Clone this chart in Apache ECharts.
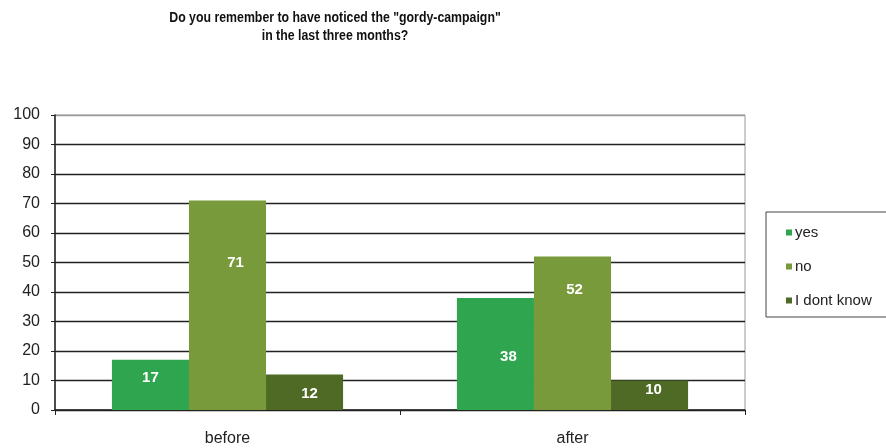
<!DOCTYPE html>
<html>
<head>
<meta charset="utf-8">
<script src="https://cdn.jsdelivr.net/npm/echarts@6/dist/echarts.min.js"></script>
<style>
  html, body { margin: 0; padding: 0; background: #fff; }
  #chart { width: 886px; height: 448px; }
</style>
</head>
<body>
<div id="chart"></div>
<script>
// Survey answers (%) for the two waves
const categories = ['before', 'after'];
const yesValues = [17, 38];
const noValues = [71, 52];
const dontKnowValues = [12, 10];
const yTicks = [0, 10, 20, 30, 40, 50, 60, 70, 80, 90, 100];
const titleText = 'Do you remember to have noticed the "gordy-campaign"\nin the last three months?';

// Label nudges inside the bars, [dx, dy] per category
const yesLabelShift = [[0, -7], [13, 3]];
const noLabelShift = [[8, -42], [2, -43]];
const dontKnowLabelShift = [[5, 2], [4, -5]];

const chart = echarts.init(document.getElementById('chart'));

function items(values, shifts) {
  return values.map((v, i) => ({ value: v, label: { offset: shifts[i] } }));
}

const barLabel = {
  show: true,
  position: 'inside',
  color: '#ffffff',
  fontFamily: 'Liberation Sans, Arial, sans-serif',
  fontWeight: 'bold',
  fontSize: 15
};

const splitColors = yTicks.map((t, i) => (i === yTicks.length - 1 ? '#9a9a9a' : '#222222'));

chart.setOption({
  animation: false,
  backgroundColor: '#ffffff',
  // Condensed bold heading, squeezed horizontally around its centre
  graphic: [{
    type: 'text',
    x: 335,
    y: 9,
    scaleX: 0.85,
    style: {
      text: titleText,
      textAlign: 'center',
      textVerticalAlign: 'top',
      font: 'bold 14.5px "Liberation Sans", Arial, sans-serif',
      lineHeight: 18,
      fill: '#111111'
    }
  }],
  legend: {
    orient: 'vertical',
    left: 766,
    top: 212,
    padding: [13, 20, 9, 20],
    itemWidth: 6,
    itemHeight: 6,
    itemGap: 19,
    icon: 'rect',
    borderColor: '#444444',
    borderWidth: 1,
    textStyle: {
      fontFamily: 'Liberation Sans, Arial, sans-serif',
      fontSize: 15,
      color: '#222222',
      padding: [0, 0, 0, -2]
    },
    data: ['yes', 'no', 'I dont know']
  },
  grid: {
    left: 55,
    right: 141,
    top: 115,
    bottom: 38,
    show: true,
    borderColor: '#9a9a9a',
    borderWidth: 1
  },
  xAxis: {
    type: 'category',
    data: categories,
    axisLine: { lineStyle: { color: '#222222', width: 1.5 } },
    axisTick: { show: true, length: 5, lineStyle: { color: '#222222' } },
    axisLabel: {
      margin: 21,
      fontFamily: 'Liberation Sans, Arial, sans-serif',
      fontSize: 16,
      color: '#222222'
    }
  },
  yAxis: {
    type: 'value',
    min: 0,
    max: 100,
    interval: 10,
    axisLine: { show: true, lineStyle: { color: '#222222', width: 1.5 } },
    axisTick: { show: true, length: 4, lineStyle: { color: '#222222' } },
    axisLabel: {
      margin: 15,
      fontFamily: 'Liberation Sans, Arial, sans-serif',
      fontSize: 16,
      color: '#222222',
      formatter: v => (yTicks.includes(v) ? String(v) : '')
    },
    splitLine: { show: true, lineStyle: { color: splitColors, width: 1.3 } }
  },
  series: [
    {
      name: 'yes',
      type: 'bar',
      barGap: '0%',
      barCategoryGap: '33%',
      itemStyle: { color: '#2fa54f' },
      label: barLabel,
      data: items(yesValues, yesLabelShift)
    },
    {
      name: 'no',
      type: 'bar',
      itemStyle: { color: '#789a3a' },
      label: barLabel,
      data: items(noValues, noLabelShift)
    },
    {
      name: 'I dont know',
      type: 'bar',
      itemStyle: { color: '#4f6a24' },
      label: barLabel,
      data: items(dontKnowValues, dontKnowLabelShift)
    }
  ]
});
</script>
</body>
</html>
